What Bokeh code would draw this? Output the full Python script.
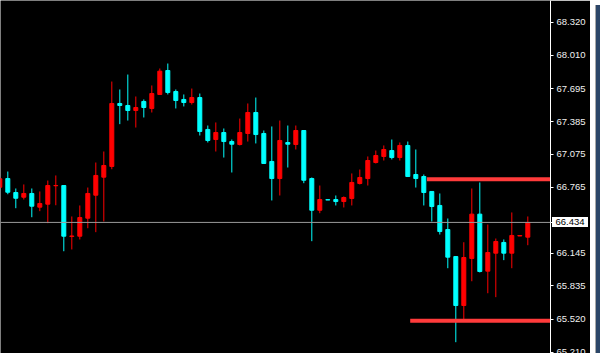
from bokeh.plotting import figure
from bokeh.models import Range1d, FixedTicker, Span, Div, ColumnDataSource
from bokeh.layouts import row
from bokeh.embed import file_html
from bokeh.resources import INLINE

opens = [66.766, 66.848, 66.716, 66.672, 66.707, 66.578, 66.606, 66.780, 66.782, 66.302,
         66.304, 66.474, 66.691, 66.861, 66.962, 67.556, 67.537, 67.490, 67.575, 67.509,
         67.641, 67.867, 67.669, 67.594, 67.565, 67.612, 67.311, 67.216, 67.282, 67.197,
         67.169, 67.273, 67.471, 67.273, 67.009, 66.848, 67.188, 67.169, 67.301, 66.848,
         66.549, 66.648, 66.650, 66.631, 66.660, 66.801, 66.848, 66.999, 67.056, 67.112,
         67.046, 67.160, 66.886, 66.867, 66.726, 66.594, 66.367, 66.112, 65.650, 66.094,
         66.512, 65.974, 66.144, 66.245, 66.144, 66.306, 66.295]
highs = [66.867, 66.914, 66.754, 66.792, 66.754, 66.726, 66.829, 66.877, 66.782, 66.490,
         66.594, 66.763, 66.999, 67.103, 67.763, 67.688, 67.829, 67.622, 67.594, 67.726,
         67.886, 67.933, 67.688, 67.641, 67.697, 67.650, 67.348, 67.377, 67.320, 67.216,
         67.414, 67.556, 67.612, 67.301, 67.339, 67.395, 67.348, 67.348, 67.301, 66.858,
         66.782, 66.648, 66.688, 66.679, 66.896, 66.933, 67.056, 67.112, 67.160, 67.216,
         67.188, 67.197, 67.122, 66.886, 66.726, 66.707, 66.471, 66.112, 66.247, 66.754,
         66.811, 66.414, 66.282, 66.273, 66.528, 66.310, 66.490]
lows = [66.754, 66.700, 66.568, 66.650, 66.483, 66.540, 66.427, 66.596, 66.162, 66.179,
        66.273, 66.379, 66.342, 66.443, 66.936, 67.361, 67.395, 67.329, 67.424, 67.471,
        67.641, 67.641, 67.509, 67.528, 67.546, 67.254, 67.188, 67.103, 67.046, 66.905,
        67.160, 67.197, 67.179, 66.990, 66.641, 66.688, 66.952, 67.122, 66.804, 66.257,
        66.521, 66.646, 66.594, 66.575, 66.594, 66.792, 66.782, 66.990, 67.018, 67.028,
        67.018, 66.867, 66.763, 66.594, 66.443, 66.320, 66.002, 65.304, 65.523, 65.879,
        65.962, 65.766, 65.729, 66.078, 66.002, 66.306, 66.219]
closes = [66.846, 66.719, 66.662, 66.707, 66.587, 66.612, 66.782, 66.782, 66.304, 66.306,
          66.480, 66.707, 66.877, 66.971, 67.556, 67.537, 67.490, 67.518, 67.518, 67.650,
          67.861, 67.660, 67.584, 67.565, 67.612, 67.292, 67.207, 67.282, 67.197, 67.172,
          67.282, 67.471, 67.263, 66.990, 66.848, 67.207, 67.172, 67.301, 66.832, 66.549,
          66.650, 66.646, 66.631, 66.669, 66.811, 66.858, 67.018, 67.065, 67.122, 67.046,
          67.160, 66.867, 66.848, 66.716, 66.584, 66.348, 66.106, 65.650, 66.103, 66.512,
          65.971, 66.150, 66.254, 66.144, 66.311, 66.310, 66.434]

tick_values = [68.320, 68.010, 67.695, 67.385, 67.075, 66.765, 66.145, 65.835, 65.520, 65.210]
tick_labels = ["68.320", "68.010", "67.695", "67.385", "67.075", "66.765",
               "66.145", "65.835", "65.520", "65.210"]

current_price = 66.434
level_prices = [66.842, 65.506]
level_starts = [53.4, 51.3]

UP = "#ff0000"
DOWN = "#00ffff"

idx = list(range(len(opens)))
colors = [UP if c >= o else DOWN for o, c in zip(opens, closes)]
tops = [max(o, c) for o, c in zip(opens, closes)]
bottoms = [min(o, c) for o, c in zip(opens, closes)]

src = ColumnDataSource(dict(x=idx, h=highs, l=lows, t=tops, b=bottoms, c=colors))

x0 = 0.0875
y_lo, y_hi = 65.1974, 68.5275
H = 353
p = figure(width=590, height=H, output_backend="svg", toolbar_location=None,
           x_range=Range1d(x0, x0 + 68.75), y_range=Range1d(y_lo, y_hi),
           x_axis_location=None, y_axis_location="right",
           min_border_left=0, min_border_top=0, min_border_bottom=0, min_border_right=40,
           background_fill_color="black", border_fill_color="black")
p.outline_line_color = None
p.grid.visible = False

# current price line
p.add_layout(Span(location=current_price, dimension="width", line_color="#9a9a9a", line_width=1))

p.segment(x0="x", y0="h", x1="x", y1="l", color="c", line_width=1, source=src)
p.vbar(x="x", top="t", bottom="b", width=0.5, fill_color="c", line_color="c", line_width=1, source=src)

# support/resistance levels
p.segment(x0=level_starts, y0=level_prices, x1=[x0 + 70, x0 + 70], y1=level_prices,
          line_color="#ff3b3b", line_width=4)

ax = p.yaxis[0]
ax.ticker = FixedTicker(ticks=tick_values + [current_price])
overrides = {v: s for v, s in zip(tick_values, tick_labels)}
overrides[current_price] = ""
ax.major_label_overrides = overrides
ax.axis_line_color = "white"
ax.major_tick_line_color = "white"
ax.major_tick_in = 0
ax.major_tick_out = 3
ax.minor_tick_line_color = None
ax.major_label_standoff = 3
ax.major_label_text_color = "#f0f0f0"
ax.major_label_text_font = "Liberation Sans"
ax.major_label_text_font_size = "9.5px"

strip = Div(width=10, height=H, styles={"background-color": "#2c4668",
                                        "border-left": "1px solid #a8a8a8",
                                        "box-sizing": "border-box"})
layout = row(p, strip)

html = file_html(layout, INLINE)

# current price tag beside the axis (the plot clips annotations to its frame)
tag_y = (y_hi - current_price) / (y_hi - y_lo) * H
tag = ('<div style="position:absolute;left:552px;top:%dpx;width:36px;height:10px;'
       'background:#ffffff;color:#000000;font-family:\'Liberation Sans\';font-size:9.5px;'
       'line-height:10px;text-align:center;z-index:10;">%s</div>'
       % (round(tag_y - 5), f"{current_price:.3f}"))
html = html.replace("</body>", tag + "</body>")

open("out.html", "w").write(html)
